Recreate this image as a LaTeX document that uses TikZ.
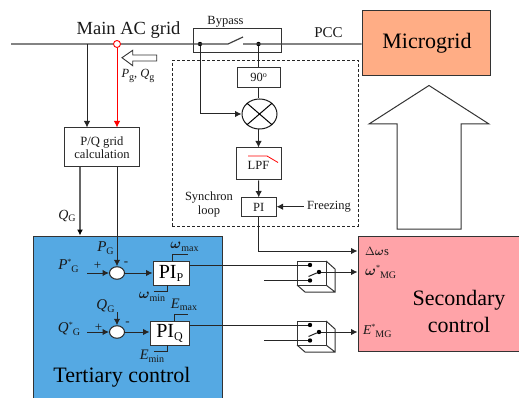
\documentclass[tikz,border=0pt]{standalone}
\usepackage{amsmath}
\usepackage{fontspec}
\setmainfont{Liberation Serif}
\usetikzlibrary{shapes.geometric,arrows.meta}
\definecolor{tertblue}{HTML}{55A9E3}
\definecolor{secpink}{HTML}{FFA3A8}
\definecolor{mgorange}{HTML}{FFAD85}
\newcommand{\fs}[1]{\fontsize{#1}{#1}\selectfont}
\newcommand{\sbs}[2]{{\itshape #1}\raisebox{-2.5pt}{\fs{10}#2}}
\newcommand{\sps}[2]{{\itshape #1}\raisebox{5pt}{\fs{8}*}\raisebox{-2.5pt}{\fs{10}#2}}
\tikzset{
  wire/.style={line width=1pt,draw=black!85},
  arr/.style={wire,-{Latex[length=6.5pt,width=6.5pt]}},
  blockbox/.style={draw=black!80,line width=1pt,inner sep=0pt,align=center},
  whitebox/.style={blockbox,fill=white},
  lbl/.style={inner sep=0pt,align=center,text=black!90,font=\fs{12.5}},
  bigl/.style={inner sep=0pt,align=center,text=black,font=\fs{22}},
  dot/.style={circle,fill=black,inner sep=0pt,minimum size=4.4pt},
  sumj/.style={ellipse,draw=black!85,fill=white,line width=1pt,minimum width=15pt,minimum height=12.5pt,inner sep=0pt},
  outl/.style={draw=black!80,line width=1pt,line join=miter},
}
\begin{document}
\begin{tikzpicture}[x=1pt,y=-1pt]
\useasboundingbox (0,0) rectangle (519,398);
% coloured blocks
\node[blockbox,fill=tertblue,minimum width=189pt,minimum height=162pt] (tert) at (127.5,317) {};
\node[blockbox,fill=secpink,minimum width=161pt,minimum height=114.5pt] (sec) at (438.5,293.75) {};
\node[blockbox,fill=mgorange,minimum width=128pt,minimum height=65pt] (mg) at (426,43.5) {};
\node[bigl,font=\fs{22}] (mgt) at (427,43.5) {Microgrid};
% dotted loop
\node[draw=black!85,densely dashed,line width=0.9pt,minimum width=186pt,minimum height=165.5pt,inner sep=0pt] (loopbox) at (265,143.25) {};
% bypass box
\node[blockbox,minimum width=88pt,minimum height=24pt] (bypbox) at (237,41) {};
% big hollow arrow
\draw[outl] (429,85.5) coordinate (bigtip) -- (489,124) -- (461,124) -- (461,229) -- (397,229) -- (397,124) -- (369,124) -- cycle;
% small hollow arrow
\draw[outl,line width=0.9pt] (122,57.7) -- (132.7,50.3) -- (132.7,55) -- (156.7,55) -- (156.7,61) -- (132.7,61) -- (132.7,65.7) -- cycle;
% blocks
\node[whitebox,minimum width=75pt,minimum height=39pt,font=\fs{12.6},text=black!90] (pq) at (102,147.5) {P/Q grid\\[1pt]calculation};
\node[whitebox,minimum width=43pt,minimum height=20.5pt,font=\fs{12.5},text=black!90] (ninety) at (258.5,77.75) {90\raisebox{4pt}{\fs{8}o}};
\node[ellipse,draw=black!90,line width=1pt,fill=white,minimum width=35pt,minimum height=30pt,inner sep=0pt] (mix) at (259.5,114) {};
\node[whitebox,minimum width=45pt,minimum height=32pt] (lpf) at (258.5,164) {};
\node[whitebox,minimum width=34.5pt,minimum height=18pt,font=\fs{12.5},text=black!90] (pi) at (258.75,207) {PI};
\node[whitebox,minimum width=36pt,minimum height=24pt,font=\fs{20}] (pip) at (171,273) {PI\raisebox{-3pt}{\fs{12}P}};
\node[whitebox,minimum width=39pt,minimum height=24pt,font=\fs{20}] (piq) at (169.5,333) {PI\raisebox{-3pt}{\fs{12}Q}};
\node[sumj] (sump) at (117,273) {};
\node[sumj] (sumq) at (117,332) {};
% main line
\coordinate (gridl) at (11,44);
\coordinate (swa) at (228,44);
\coordinate (swu) at (243,37);
\coordinate (swb) at (243,44);
\node[dot] (d1) at (200,44) {};
\node[dot] (d2) at (258.5,44) {};
\node[circle,draw=red,line width=0.9pt,minimum size=7pt,inner sep=0pt] (meas) at (117,44) {};
\coordinate (tap) at (87,44);
\draw[wire,draw=black!75,line width=1.2pt] (gridl) -- (meas.west) (meas.east) -- (swa) -- (swu) (swb) -- (mg.west |- swb);
% measurement
\draw[arr] (tap) -- (tap |- pq.north);
\draw[arr,draw=red,red] (meas.south) -- (meas.south |- pq.north);
\coordinate (qout) at (80,167);
\draw[arr,draw=black!60,line width=1.3pt,arrows={-{Latex[length=6pt,width=6pt,black]}}] (qout) -- (qout |- tert.north);
\coordinate (pout) at (117,167);
\draw[arr] (pout) -- (sump.north);
% synchron loop
\draw[arr] (d1) |- (mix.west);
\draw[wire] (d2) -- (ninety.north);
\draw[wire] (ninety.south) -- (ninety.south |- mix.north);
\draw[wire,draw=black] (mix.north west) -- (mix.south east) (mix.north east) -- (mix.south west);
\draw[arr] (mix.south -| lpf.north) -- (lpf.north);
\draw[arr] (lpf.south) -- (pi.north);
\draw[draw=red,line width=0.8pt] (248,156) -- (267,156) -- (278,162.5);
\node[lbl] (lpftxt) at (258.5,165) {LPF};
\node[lbl] (freez) at (329,206.7) {Freezing};
\draw[arr] (freez.west) ++(-3,0) coordinate (fz) -- (pi.east |- fz);
\coordinate (pibend) at (pi.south |- 0,251);
\coordinate (secin) at (sec.west |- 0,251);
\draw[arr] (pi.south) -- (pibend) -- (secin);
% sums
\coordinate (pst) at (87,273);
\coordinate (qst) at (87,332);
\draw[arr] (pst) -- (sump.west);
\draw[arr] (sump.east) -- (pip.west);
\draw[arr] (qst) -- (sumq.west);
\draw[arr] (sumq.east) -- (piq.west |- sumq.east);
\coordinate (qgtop) at (117,312);
\draw[arr] (qgtop) -- (sumq.north);
% limiters
\draw[wire] (172,261) -- (172,254.5) -- (188,254.5);
\draw[wire] (167,285) -- (167,291) -- (154,291);
\draw[wire] (174,321) -- (174,314) -- (188,314);
\draw[wire] (167,345) -- (167,351) -- (154,351);
% switches
\foreach \n/\y in {a/261,b/321}{
  \draw[outl] (297,\y) rectangle (326,\y+24);
  \draw[outl] (326,\y) -- (335,\y+8) -- (335,\y+31) -- (305,\y+31) -- (297,\y+24) (326,\y+24) -- (335,\y+31);
  \node[dot] (s\n1) at (310,\y+4) {};
  \node[dot] (s\n2) at (310,\y+19.5) {};
  \node[dot] (s\n3) at (319,\y+11) {};
  \draw[wire] (s\n3) -- (308.5,\y+15.5);
  \coordinate (in\n) at (264,\y+19.5);
  \draw[wire] (in\n) -- (s\n2);
  \draw[arr] (s\n3) -- (sec.west |- s\n3);
}
\draw[wire] (pip.east |- sa1) -- (sa1);
\draw[wire] (piq.east |- sb1) -- (sb1);
% labels
\node[lbl,font=\fs{18.5}] (t1) at (128.5,30) {Main AC grid};
\node[lbl,font=\fs{12.5}] (t2) at (225.5,22) {Bypass};
\node[lbl,font=\fs{15}] (t3) at (328.5,33) {PCC};
\node[lbl] (t4) at (138,76) {\sbs{P}{g}\hspace{0pt}, \sbs{Q}{g}};
\node[lbl,font=\fs{14}] (t5) at (67,216) {\sbs{Q}{G}};
\node[lbl] (t6) at (209,204.5) {Synchron\\[1.5pt]loop};
\node[lbl,font=\fs{15}] (t7) at (105.5,248) {\sbs{P}{G}};
\node[lbl,font=\fs{15}] (t8) at (68.5,266) {\sps{P}{G}};
\node[lbl,font=\fs{15}] (t9) at (105.5,306) {\sbs{Q}{G}};
\node[lbl,font=\fs{15}] (t10) at (69,329) {\sps{Q}{G}};
\node[lbl,font=\fs{13}] (t11) at (97.5,266) {+};
\node[lbl,font=\fs{13}] (t12) at (126,264) {-};
\node[lbl,font=\fs{13}] (t13) at (98.5,328) {+};
\node[lbl,font=\fs{13}] (t14) at (127.5,324) {-};
\node[lbl,font=\fs{14.5}] (t15) at (184.5,247) {$\boldsymbol{\omega}$\raisebox{-2.5pt}{\fs{10}max}};
\node[lbl,font=\fs{14.5}] (t16) at (152,297) {$\boldsymbol{\omega}$\raisebox{-2.5pt}{\fs{10}min}};
\node[lbl,font=\fs{14.5}] (t17) at (184,305) {\sbs{E}{\fs{10}\upshape max}};
\node[lbl,font=\fs{14.5}] (t18) at (152,356) {\sbs{E}{\fs{10}\upshape min}};
\node[bigl] (t19) at (122,377) {Tertiary control};
\node[bigl] (t20) at (459,311.5) {Secondary\\[5pt]control};
\node[lbl,anchor=west,font=\fs{12.5}] (t21) at (365,251.5) {$\Delta\boldsymbol{\omega}$s};
\node[lbl,anchor=west,font=\fs{15}] (t22) at (365,272) {$\boldsymbol{\omega}$\raisebox{5pt}{\fs{8}*}\raisebox{-2.5pt}{\fs{10}MG}};
\node[lbl,anchor=west,font=\fs{13.5}] (t23) at (363,331) {\sps{E}{MG}};
\end{tikzpicture}
\end{document}
